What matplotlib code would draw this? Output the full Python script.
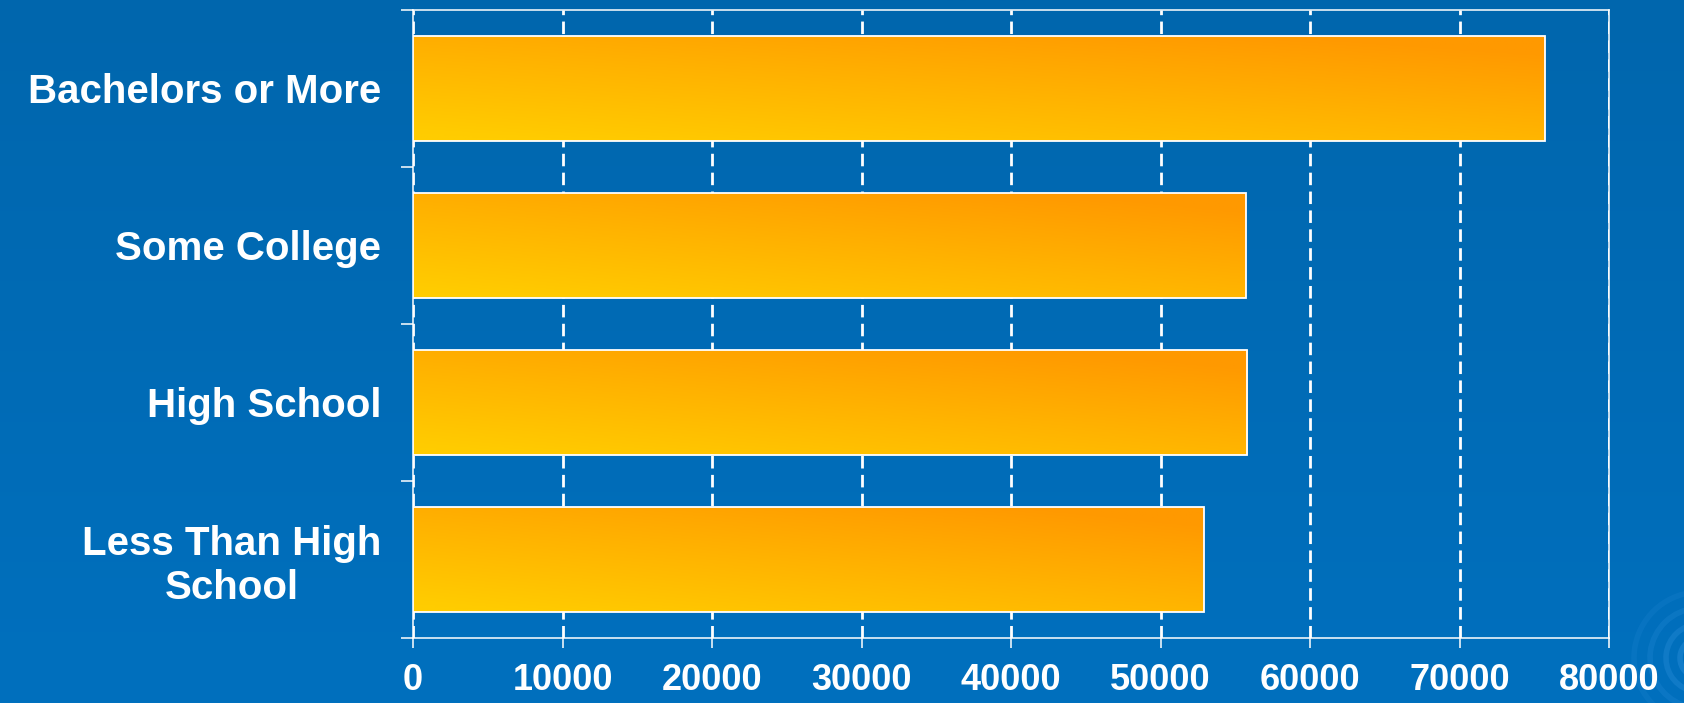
import numpy as np
import matplotlib.pyplot as plt
from matplotlib.colors import LinearSegmentedColormap
from matplotlib.patches import Rectangle, Arc

# median household income by education level
categories = ["Bachelors or More", "Some College", "High School", "Less Than High\nSchool"]
income = [75700, 55700, 55800, 52900]
xticks = [0, 10000, 20000, 30000, 40000, 50000, 60000, 70000, 80000]

plt.rcParams["font.family"] = ["Liberation Sans", "DejaVu Sans"]
plt.rcParams["font.weight"] = "bold"

fig = plt.figure(figsize=(16.84, 7.03), dpi=100)

# slide background, slightly lighter toward the bottom
bg = fig.add_axes([0, 0, 1, 1], zorder=0)
bg_cmap = LinearSegmentedColormap.from_list("bg", ["#0070be", "#0066ad"])
bg.imshow(np.linspace(0, 1, 256).reshape(-1, 1)[::-1], cmap=bg_cmap, aspect="auto",
          extent=[0, 1, 0, 1], origin="upper")
bg.set_xlim(0, 1)
bg.set_ylim(0, 1)
bg.axis("off")

# faint swirl in the lower right corner
for r, a in [(0.2, 0.3), (0.34, 0.25), (0.5, 0.18), (0.66, 0.12)]:
    bg.add_patch(Arc((17.0, 0.45), 2 * r, 2 * r, theta1=95, theta2=250,
                     transform=fig.dpi_scale_trans, color="#3d9be6", lw=4, alpha=a))

ax = fig.add_axes([0.2453, 0.0925, 0.7102, 0.8933], zorder=1)
ax.patch.set_alpha(0)

# yellow at the lower left of each bar, orange toward the upper right
bar_cmap = LinearSegmentedColormap.from_list("bar", ["#ffcc00", "#ffb300", "#ff9900"])
uu, vv = np.meshgrid(np.linspace(0, 1, 200), np.linspace(1, 0, 50))
grad = np.clip(0.65 * vv + 0.5 * uu - 0.05, 0, 1)

ypos = np.arange(len(categories))
bar_h = 0.665
for y, val in zip(ypos, income):
    rect = Rectangle((0, y - bar_h / 2), val, bar_h, facecolor="none",
                     edgecolor="white", lw=1.3, zorder=4)
    ax.add_patch(rect)
    im = ax.imshow(grad, cmap=bar_cmap, aspect="auto", origin="upper",
                   extent=[0, val, y + bar_h / 2, y - bar_h / 2], zorder=3)
    im.set_clip_path(rect)

ax.set_xlim(0, 80000)
ax.set_ylim(len(categories) - 0.5, -0.5)

ax.set_xticks(xticks)
ax.set_xticklabels([str(t) for t in xticks])
ax.xaxis.grid(True, color="white", lw=2, linestyle=(0, (4.5, 2.3)), zorder=1)
ax.set_axisbelow(True)

# category labels sit between the boundary ticks
ax.set_yticks(np.arange(-0.5, len(categories), 1.0))
ax.set_yticklabels([])
ax.set_yticks(ypos, minor=True)
ax.set_yticklabels(categories, minor=True, ha="right", multialignment="center")

ax.tick_params(axis="x", colors="white", labelcolor="white", length=7.2, width=1.1,
               labelsize=26, pad=10.5)
ax.tick_params(axis="y", which="major", colors="white", length=8.6, width=1.1)
ax.tick_params(axis="y", which="minor", length=0, labelcolor="white", labelsize=29, pad=23)

for sp in ax.spines.values():
    sp.set_color("white")
    sp.set_linewidth(1.1)

fig.savefig("out.png", dpi=100)
